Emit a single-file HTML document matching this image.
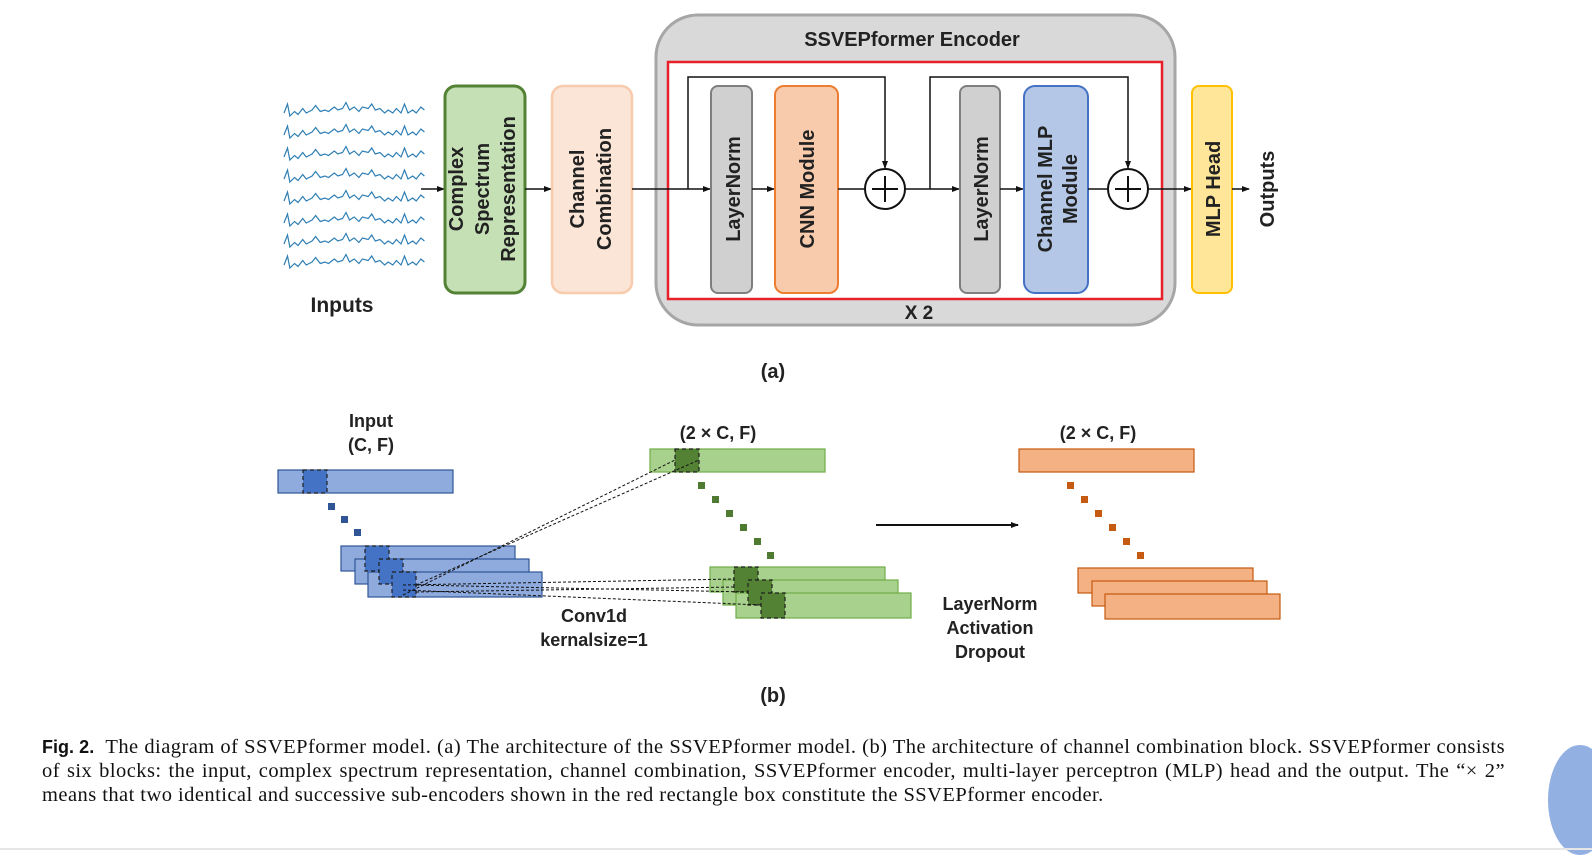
<!DOCTYPE html>
<html><head><meta charset="utf-8"><style>
html,body{margin:0;padding:0;background:#fff;width:1592px;height:865px;overflow:hidden;position:relative}
svg{position:absolute;left:0;top:0}
.cap{position:absolute;left:42px;top:735px;width:1463px;font-family:"Liberation Serif",serif;font-size:20.5px;letter-spacing:0.45px;line-height:24px;text-align:justify;color:#111}
</style></head><body>
<svg width="1592" height="865" viewBox="0 0 1592 865" font-family="Liberation Sans, sans-serif" font-weight="bold">
<defs>
<marker id="ar" markerWidth="8" markerHeight="8" refX="7" refY="4" orient="auto" markerUnits="userSpaceOnUse"><path d="M0,1 L8,4 L0,7z" fill="#111"/></marker>
<path id="wv" d="M0,0 l3,-6 l2,8 l4,-3 l3,2 l4,-4 l3,3 l5,-2 l3,-3 l4,4 l4,-1 l3,1 l5,-3 l3,2 l4,-1 l3,-4 l3,5 l4,-2 l4,3 l3,-3 l5,1 l3,-3 l3,4 l4,-1 l4,3 l3,-2 l4,2 l3,-3 l4,3 l3,-6 l3,6 l4,-2 l3,2 l4,-4 l3,2" fill="none" stroke="#2f7fb5" stroke-width="1.2" vector-effect="non-scaling-stroke"/>
</defs>
<g>
<use href="#wv" transform="translate(284,113) scale(1.17,1.5)"/><use href="#wv" transform="translate(284,135) scale(1.17,1.5)"/>
<use href="#wv" transform="translate(284,157) scale(1.17,1.5)"/><use href="#wv" transform="translate(284,179) scale(1.17,1.5)"/>
<use href="#wv" transform="translate(284,201) scale(1.17,1.5)"/><use href="#wv" transform="translate(284,223) scale(1.17,1.5)"/>
<use href="#wv" transform="translate(284,244) scale(1.17,1.5)"/><use href="#wv" transform="translate(284,265) scale(1.17,1.5)"/>
</g>
<text x="342" y="312" font-size="21" text-anchor="middle" fill="#222">Inputs</text>
<line x1="421" y1="189" x2="444" y2="189" stroke="#111" stroke-width="1.5" marker-end="url(#ar)"/>
<rect x="445" y="86" width="80" height="207" rx="11" fill="#c5e0b4" stroke="#548235" stroke-width="3"/>
<g transform="translate(485,189) rotate(-90)" font-size="20" text-anchor="middle" fill="#222">
<text y="-22">Complex</text><text y="4">Spectrum</text><text y="30">Representation</text></g>
<line x1="525" y1="189" x2="551" y2="189" stroke="#111" stroke-width="1.5" marker-end="url(#ar)"/>
<rect x="552" y="86" width="80" height="207" rx="11" fill="#fbe5d6" stroke="#f8cbad" stroke-width="2.5"/>
<g transform="translate(592,189) rotate(-90)" font-size="20" text-anchor="middle" fill="#222">
<text y="-8">Channel</text><text y="19">Combination</text></g>
<rect x="656" y="15" width="519" height="310" rx="42" fill="#d9d9d9" stroke="#a6a6a6" stroke-width="3"/>
<text x="912" y="46" font-size="20" text-anchor="middle" fill="#222">SSVEPformer Encoder</text>
<rect x="668" y="62" width="494" height="237" fill="#fff" stroke="#e8202a" stroke-width="2.5"/>
<text x="919" y="319" font-size="19" text-anchor="middle" fill="#222">X 2</text>
<line x1="632" y1="189" x2="710" y2="189" stroke="#111" stroke-width="1.5" marker-end="url(#ar)"/>
<polyline points="688,189 688,77 885,77 885,168" fill="none" stroke="#111" stroke-width="1.5" marker-end="url(#ar)"/>
<rect x="711" y="86" width="41" height="207" rx="7" fill="#d0d0d0" stroke="#7f7f7f" stroke-width="2"/>
<text transform="translate(740,189) rotate(-90)" font-size="20" text-anchor="middle" fill="#222">LayerNorm</text>
<line x1="752" y1="189" x2="774" y2="189" stroke="#111" stroke-width="1.5" marker-end="url(#ar)"/>
<rect x="775" y="86" width="63" height="207" rx="9" fill="#f8cbad" stroke="#ed7d31" stroke-width="2"/>
<text transform="translate(814,189) rotate(-90)" font-size="20" text-anchor="middle" fill="#222">CNN Module</text>
<line x1="838" y1="189" x2="865" y2="189" stroke="#111" stroke-width="1.5"/>
<circle cx="885" cy="189" r="20" fill="#fff" stroke="#111" stroke-width="2"/>
<path d="M885,176 V202 M872,189 H898" stroke="#111" stroke-width="2"/>
<line x1="905" y1="189" x2="959" y2="189" stroke="#111" stroke-width="1.5" marker-end="url(#ar)"/>
<polyline points="930,189 930,77 1128,77 1128,168" fill="none" stroke="#111" stroke-width="1.5" marker-end="url(#ar)"/>
<rect x="960" y="86" width="40" height="207" rx="7" fill="#d0d0d0" stroke="#7f7f7f" stroke-width="2"/>
<text transform="translate(988,189) rotate(-90)" font-size="20" text-anchor="middle" fill="#222">LayerNorm</text>
<line x1="1000" y1="189" x2="1023" y2="189" stroke="#111" stroke-width="1.5" marker-end="url(#ar)"/>
<rect x="1024" y="86" width="64" height="207" rx="11" fill="#b4c7e7" stroke="#4472c4" stroke-width="2"/>
<g transform="translate(1056,189) rotate(-90)" font-size="20" text-anchor="middle" fill="#222"><text y="-4">Channel MLP</text><text y="21">Module</text></g>
<line x1="1088" y1="189" x2="1108" y2="189" stroke="#111" stroke-width="1.5"/>
<circle cx="1128" cy="189" r="20" fill="#fff" stroke="#111" stroke-width="2"/>
<path d="M1128,176 V202 M1115,189 H1141" stroke="#111" stroke-width="2"/>
<line x1="1148" y1="189" x2="1191" y2="189" stroke="#111" stroke-width="1.5" marker-end="url(#ar)"/>
<rect x="1192" y="86" width="40" height="207" rx="7" fill="#ffe699" stroke="#ffc000" stroke-width="2"/>
<text transform="translate(1220,189) rotate(-90)" font-size="20" text-anchor="middle" fill="#222">MLP  Head</text>
<line x1="1232" y1="189" x2="1249" y2="189" stroke="#111" stroke-width="1.5" marker-end="url(#ar)"/>
<text transform="translate(1274,189) rotate(-90)" font-size="20" text-anchor="middle" fill="#222">Outputs</text>
<text x="773" y="378" font-size="20" text-anchor="middle" fill="#222">(a)</text>
<text x="773" y="702" font-size="20" text-anchor="middle" fill="#222">(b)</text>

<g font-size="18" text-anchor="middle" fill="#222">
<text x="371" y="427">Input</text><text x="371" y="451">(C, F)</text>
<text x="718" y="439">(2 × C, F)</text><text x="1098" y="439">(2 × C, F)</text>
<text x="594" y="622">Conv1d</text><text x="594" y="646">kernalsize=1</text>
<text x="990" y="610">LayerNorm</text><text x="990" y="634">Activation</text><text x="990" y="658">Dropout</text>
</g>
<g stroke="#2f5597" stroke-width="1.2" fill="#8faadc">
<rect x="278" y="470" width="175" height="23"/>
<rect x="341" y="546" width="174" height="25"/>
<rect x="355" y="559" width="174" height="25"/>
<rect x="368" y="572" width="174" height="25"/>
</g>
<g fill="#4472c4" stroke="#1f1f1f" stroke-width="1.2" stroke-dasharray="4,3">
<rect x="303" y="470" width="24" height="23"/>
<rect x="365" y="546" width="24" height="25"/>
<rect x="379" y="559" width="24" height="25"/>
<rect x="392" y="572" width="24" height="25"/>
</g>
<g fill="#2f5597"><rect x="328" y="503" width="7" height="7"/><rect x="341" y="516" width="7" height="7"/><rect x="354" y="529" width="7" height="7"/></g>
<g stroke="#70ad47" stroke-width="1.2" fill="#a9d18e">
<rect x="650" y="449" width="175" height="23"/>
<rect x="710" y="567" width="175" height="25"/>
<rect x="723" y="580" width="175" height="25"/>
<rect x="736" y="593" width="175" height="25"/>
</g>
<g fill="#548235" stroke="#1f1f1f" stroke-width="1.2" stroke-dasharray="4,3">
<rect x="675" y="449" width="24" height="23"/>
<rect x="734" y="567" width="24" height="25"/>
<rect x="748" y="580" width="24" height="25"/>
<rect x="761" y="593" width="24" height="25"/>
</g>
<g fill="#4e7a32"><rect x="698" y="482" width="7" height="7"/><rect x="712" y="496" width="7" height="7"/><rect x="726" y="510" width="7" height="7"/><rect x="740" y="524" width="7" height="7"/><rect x="754" y="538" width="7" height="7"/><rect x="767" y="552" width="7" height="7"/></g>
<g stroke="#111" stroke-width="1" stroke-dasharray="3,2" fill="none">
<line x1="403" y1="595" x2="675" y2="460"/><line x1="416" y1="585" x2="699" y2="460"/>
<line x1="403" y1="585" x2="734" y2="579"/><line x1="416" y1="585" x2="748" y2="592"/>
<line x1="403" y1="590" x2="761" y2="605"/><line x1="416" y1="592" x2="734" y2="587"/>
</g>
<line x1="876" y1="525" x2="1018" y2="525" stroke="#111" stroke-width="2" marker-end="url(#ar)"/>
<g stroke="#c55a11" stroke-width="1.2" fill="#f4b183">
<rect x="1019" y="449" width="175" height="23"/>
<rect x="1078" y="568" width="175" height="25"/>
<rect x="1092" y="581" width="175" height="25"/>
<rect x="1105" y="594" width="175" height="25"/>
</g>
<g fill="#c55a11"><rect x="1067" y="482" width="7" height="7"/><rect x="1081" y="496" width="7" height="7"/><rect x="1095" y="510" width="7" height="7"/><rect x="1109" y="524" width="7" height="7"/><rect x="1123" y="538" width="7" height="7"/><rect x="1137" y="552" width="7" height="7"/></g>
<ellipse cx="1580" cy="800" rx="32" ry="55" fill="#6f95d8" opacity="0.75"/>
<line x1="0" y1="849" x2="1592" y2="849" stroke="#e6e6e6" stroke-width="2"/>
</svg>
<div class="cap"><b style="font-family:'Liberation Sans',sans-serif;font-size:18px;letter-spacing:0">Fig. 2.</b>&nbsp; The diagram of SSVEPformer model. (a) The architecture of the SSVEPformer model. (b) The architecture of channel combination block. SSVEPformer consists of six blocks: the input, complex spectrum representation, channel combination, SSVEPformer encoder, multi-layer perceptron (MLP) head and the output. The “× 2” means that two identical and successive sub-encoders shown in the red rectangle box constitute the SSVEPformer encoder.</div>
</body></html>
